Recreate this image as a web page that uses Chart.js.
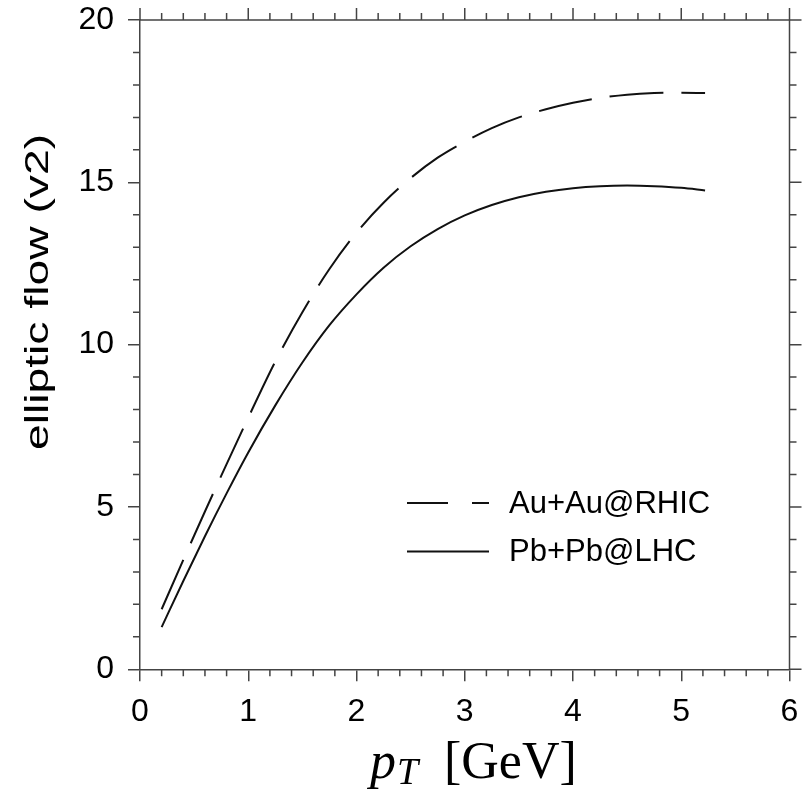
<!DOCTYPE html>
<html>
<head>
<meta charset="utf-8">
<script src="https://cdn.jsdelivr.net/npm/chart.js@4.4.1/dist/chart.umd.min.js"></script>
<style>
    html, body { margin: 0; padding: 0; background: #fff; }
    #wrap { width: 810px; height: 792px; }
</style>
</head>
<body>
<div id="wrap"><canvas id="flow-chart" width="810" height="792"></canvas></div>
<script>
// transverse momentum (GeV) and elliptic flow v2
const ptValues = [0.2, 0.4, 0.6, 0.8, 1.0, 1.25, 1.5, 1.75, 2.0, 2.25, 2.5, 2.75, 3.0, 3.25, 3.5, 3.75, 4.0, 4.25, 4.5, 4.75, 5.0, 5.22];
const auAuFlow = [1.85, 3.37, 4.86, 6.32, 7.75, 9.48, 11.0, 12.33, 13.45, 14.37, 15.13, 15.76, 16.25, 16.67, 17.0, 17.25, 17.45, 17.6, 17.7, 17.75, 17.76, 17.75];
const pbPbFlow = [1.3, 2.72, 4.1, 5.42, 6.68, 8.13, 9.45, 10.6, 11.55, 12.37, 13.03, 13.56, 13.98, 14.3, 14.54, 14.71, 14.82, 14.88, 14.9, 14.88, 14.83, 14.75];
const seriesLabels = ['Au+Au@RHIC', 'Pb+Pb@LHC'];
const xTicks = [0, 1, 2, 3, 4, 5, 6];
const yTicks = [0, 5, 10, 15, 20];
const xMinorStep = 0.2;
const yMinorStep = 1;

const axisColor = '#444';
const lineColor = '#111';
const sansFont = '"Liberation Sans", Arial, sans-serif';
const serifFont = '"Liberation Serif", "Times New Roman", serif';

function toPoints(xs, ys) {
    return xs.map((x, i) => ({ x, y: ys[i] }));
}

// frame, minor ticks, axis titles and the in-plot legend
const framePlugin = {
    id: 'frame',
    afterDraw(chart) {
        const { ctx, chartArea: a, scales: { x, y } } = chart;
        ctx.save();
        ctx.strokeStyle = axisColor;
        ctx.lineWidth = 1.5;
        ctx.beginPath();
        ctx.moveTo(a.left, a.top);
        ctx.lineTo(a.right, a.top);
        ctx.lineTo(a.right, a.bottom);
        xTicks.forEach(v => {
            const px = x.getPixelForValue(v);
            ctx.moveTo(px, a.top);
            ctx.lineTo(px, a.top - 12);
        });
        yTicks.forEach(v => {
            const py = y.getPixelForValue(v);
            ctx.moveTo(a.right, py);
            ctx.lineTo(a.right + 12, py);
        });
        for (let i = 1; i < 30; i++) {
            if (i % 5 === 0) continue;
            const px = x.getPixelForValue(i * xMinorStep);
            ctx.moveTo(px, a.bottom);
            ctx.lineTo(px, a.bottom + 7);
            ctx.moveTo(px, a.top);
            ctx.lineTo(px, a.top - 7);
        }
        for (let i = 1; i < 20; i++) {
            if (i % 5 === 0) continue;
            const py = y.getPixelForValue(i * yMinorStep);
            ctx.moveTo(a.left, py);
            ctx.lineTo(a.left - 7, py);
            ctx.moveTo(a.right, py);
            ctx.lineTo(a.right + 7, py);
        }
        ctx.stroke();

        // legend
        ctx.strokeStyle = lineColor;
        ctx.lineWidth = 2;
        const lx = a.left + 267;
        const rows = [a.top + 483, a.top + 531.5];
        ctx.setLineDash([41, 24]);
        ctx.beginPath();
        ctx.moveTo(lx, rows[0]);
        ctx.lineTo(lx + 82, rows[0]);
        ctx.stroke();
        ctx.setLineDash([]);
        ctx.beginPath();
        ctx.moveTo(lx, rows[1]);
        ctx.lineTo(lx + 82, rows[1]);
        ctx.stroke();
        ctx.fillStyle = '#000';
        ctx.font = `31px ${sansFont}`;
        ctx.textAlign = 'left';
        ctx.textBaseline = 'middle';
        ctx.fillText(seriesLabels[0], lx + 102, rows[0] + 1);
        ctx.fillText(seriesLabels[1], lx + 102, rows[1] + 1);

        // y title, drawn stretched along its length like the original
        ctx.save();
        ctx.translate(48, 292);
        ctx.rotate(-Math.PI / 2);
        ctx.scale(1.36, 1);
        ctx.textAlign = 'center';
        ctx.textBaseline = 'alphabetic';
        ctx.font = `34px ${sansFont}`;
        ctx.fillText('elliptic flow (v2)', 0, 0);
        ctx.restore();

        // x title: p_T [GeV]
        ctx.textAlign = 'left';
        ctx.textBaseline = 'alphabetic';
        const base = 778;
        ctx.font = `italic 52px ${serifFont}`;
        ctx.fillText('p', 370, base);
        ctx.font = `italic 38px ${serifFont}`;
        ctx.fillText('T', 397, base + 6);
        ctx.font = `52px ${serifFont}`;
        ctx.fillText('[GeV]', 444, base);
        ctx.restore();
    }
};

const tickFont = { family: sansFont, size: 32 };

new Chart(document.getElementById('flow-chart'), {
    type: 'line',
    data: {
        datasets: [
            {
                label: seriesLabels[0],
                data: toPoints(ptValues, auAuFlow),
                borderColor: lineColor,
                borderWidth: 2,
                borderDash: [54, 18],
                pointRadius: 0,
                cubicInterpolationMode: 'monotone',
                fill: false,
            },
            {
                label: seriesLabels[1],
                data: toPoints(ptValues, pbPbFlow),
                borderColor: lineColor,
                borderWidth: 2,
                pointRadius: 0,
                cubicInterpolationMode: 'monotone',
                fill: false,
            },
        ],
    },
    options: {
        responsive: false,
        animation: false,
        events: [],
        layout: { padding: { top: 20, right: 20.5, left: 0, bottom: 0 } },
        plugins: {
            legend: { display: false },
            tooltip: { enabled: false },
        },
        scales: {
            x: {
                type: 'linear',
                min: 0,
                max: 6,
                afterBuildTicks: s => { s.ticks = xTicks.map(v => ({ value: v })); },
                afterFit: s => { s.height = 122.7; s.paddingLeft = 0; s.paddingRight = 0; },
                ticks: { font: tickFont, color: '#000', padding: 12, maxRotation: 0 },
                grid: { drawOnChartArea: false, tickLength: 12, color: axisColor, lineWidth: 1.5 },
                border: { color: axisColor, width: 1.5 },
            },
            y: {
                type: 'linear',
                min: 0,
                max: 20,
                afterBuildTicks: s => { s.ticks = yTicks.map(v => ({ value: v })); },
                afterFit: s => { s.width = 140; s.paddingTop = 0; s.paddingBottom = 0; },
                ticks: { font: tickFont, color: '#000', padding: 14 },
                grid: { drawOnChartArea: false, tickLength: 12, color: axisColor, lineWidth: 1.5 },
                border: { color: axisColor, width: 1.5 },
            },
        },
    },
    plugins: [framePlugin],
});
</script>
</body>
</html>
